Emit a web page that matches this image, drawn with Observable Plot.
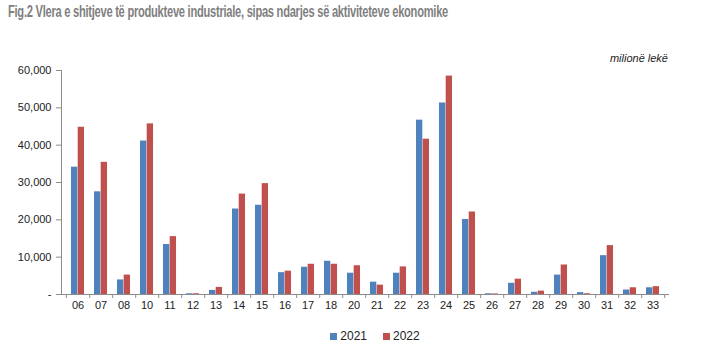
<!DOCTYPE html>
<html>
<head>
<meta charset="utf-8">
<script src="https://cdn.jsdelivr.net/npm/d3@7"></script>
<script src="https://cdn.jsdelivr.net/npm/@observablehq/plot@0.6"></script>
<style>
  html, body { margin: 0; padding: 0; background: #fff; }
  #wrap { position: relative; width: 720px; height: 351px; overflow: hidden; font-family: "Liberation Sans", Arial, sans-serif; }
  #chart { position: absolute; left: 0; top: 0; }
  #title { position: absolute; left: 8px; top: 2px; white-space: nowrap; font-family: "Liberation Sans Narrow", "Liberation Sans", Arial, sans-serif; font-weight: bold; font-size: 17px; color: #7f7f7f; letter-spacing: -0.4px; transform-origin: 0 0; }
  #unit { position: absolute; right: 52px; top: 52px; font-style: italic; font-size: 11px; color: #222; }
  #legend { position: absolute; left: 0; width: 720px; top: 329px; display: flex; justify-content: center; padding-left: 30px; box-sizing: border-box; font-size: 12px; color: #222; }
  .sw { display: inline-flex; align-items: center; margin: 0 8px; }
  .sw i { display: inline-block; width: 7px; height: 7px; margin-right: 3px; }
</style>
</head>
<body>
<div id="wrap">
  <div id="chart"></div>
  <div id="title">Fig.2 Vlera e shitjeve të produkteve industriale, sipas ndarjes së aktiviteteve ekonomike</div>
  <div id="unit">milionë lekë</div>
  <div id="legend"></div>
</div>
<script>
const categories = ["06","07","08","10","11","12","13","14","15","16","17","18","20","21","22","23","24","25","26","27","28","29","30","31","32","33"];
const years = ["2021", "2022"];
const values2021 = [34100, 27500, 3900, 41100, 13400, 200, 1100, 22900, 23900, 5850, 7300, 8900, 5700, 3300, 5700, 46700, 51300, 20100, 200, 3000, 600, 5200, 500, 10400, 1200, 1800];
const values2022 = [44800, 35400, 5200, 45700, 15500, 200, 1900, 26900, 29700, 6250, 8100, 8100, 7700, 2500, 7400, 41600, 58500, 22100, 150, 4100, 900, 7900, 200, 13100, 1800, 2100];
const yTicks = [0, 10000, 20000, 30000, 40000, 50000, 60000];
const colors = ["#4F81BD", "#C0504D"];

const data = categories.flatMap((c, i) => [
  {cat: c, year: years[0], value: values2021[i]},
  {cat: c, year: years[1], value: values2022[i]}
]);

const W = 720, H = 351, mL = 61, mR = 51, mT = 70, mB = 57;
const bw = (W - mL - mR) / categories.length;
const barW = bw * 0.287;
const gap = (bw - 2 * barW) / 2;
const axisGray = "#8c8c8c";

const plot = Plot.plot({
  width: W, height: H,
  marginLeft: mL, marginRight: mR, marginTop: mT, marginBottom: mB,
  style: {fontFamily: "'Liberation Sans', Arial, sans-serif", fontSize: "11px", color: "#222", background: "transparent"},
  x: {domain: categories, padding: 0, label: null},
  y: {domain: [0, 60000], label: null},
  color: {domain: years, range: colors},
  marks: [
    Plot.barY(data.filter(d => d.year === years[0]), {x: "cat", y: "value", fill: "year", insetLeft: gap, insetRight: gap + barW}),
    Plot.barY(data.filter(d => d.year === years[1]), {x: "cat", y: "value", fill: "year", insetLeft: gap + barW, insetRight: gap}),
    Plot.ruleY([0], {stroke: axisGray}),
    Plot.frame({anchor: "left", stroke: axisGray}),
    Plot.axisY({ticks: yTicks, tickSize: 5, tickPadding: 5, stroke: axisGray, tickFormat: d => d === 0 ? "-" : d3.format(",")(d), fontSize: 11, fill: "#222"}),
    Plot.axisX({ticks: categories, tickSize: 0, tickPadding: 7, fontSize: 11, fill: "#222"}),
    Plot.axisX({ticks: categories, tickSize: 4, tickFormat: () => "", stroke: axisGray, dx: bw / 2}),
    Plot.axisX({ticks: [categories[0]], tickSize: 4, tickFormat: () => "", stroke: axisGray, dx: -bw / 2})
  ]
});
document.getElementById("chart").appendChild(plot);

// legend
const lg = document.getElementById("legend");
years.forEach((y, i) => {
  const s = document.createElement("span");
  s.className = "sw";
  s.innerHTML = `<i style="background:${colors[i]}"></i>${y}`;
  lg.appendChild(s);
});

// fit title width to reference (~440px)
const t = document.getElementById("title");
const tw = t.getBoundingClientRect().width;
t.style.transform = `scaleX(${440 / tw})`;
</script>
</body>
</html>
